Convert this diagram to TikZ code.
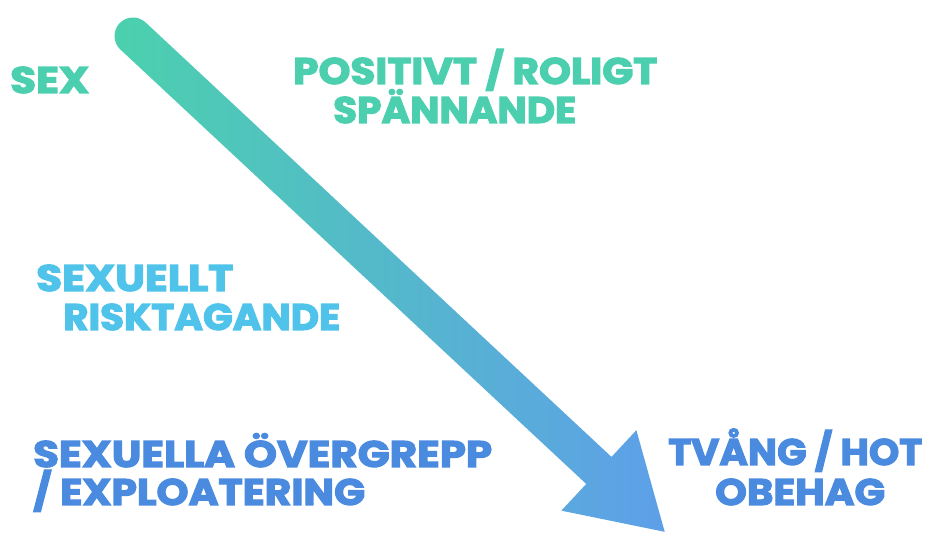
\documentclass[tikz,border=0pt]{standalone}
\usepackage{fontspec}
\usepackage{graphicx}
\setmainfont{Poppins}[BoldFeatures={FakeBold=3}]
\usetikzlibrary{calc}
\definecolor{greenT}{HTML}{4BCFAE}
\definecolor{lightB}{HTML}{4FC3EA}
\definecolor{darkB}{HTML}{4A8BDF}
\definecolor{arrowA}{HTML}{4BD1AD}
\definecolor{arrowB}{HTML}{5E9FE9}
\newcommand\fitwidth[2]{\resizebox{#1}{\height}{#2}}
\begin{document}
\begin{tikzpicture}[x=1pt,y=1pt,
  lbl/.style={anchor=base west, inner sep=0pt, font=\fontsize{37}{37}\selectfont\bfseries}]
\useasboundingbox (0,0) rectangle (926,534);
\coordinate (S) at (133,498);
\coordinate (B) at ($(S)+(-43:637pt)$);
\coordinate (T) at ($(B)+(-43:90pt)$);
\coordinate (Su) at ($(S)+(47:18.5pt)$);
\coordinate (Bu) at ($(B)+(47:18.5pt)$);
\coordinate (Bl) at ($(B)+(227:18.5pt)$);
\coordinate (Hu) at ($(B)+(47:55pt)$);
\coordinate (Hl) at ($(B)+(227:55pt)$);
\shade[left color=arrowA, right color=arrowB]
  (Su) arc[start angle=47, end angle=227, radius=18.5pt] -- (Bl) -- (Hl) -- (T) -- (Hu) -- (Bu) -- cycle;
\node[lbl, text=greenT] (sex) at (10,441) {\fitwidth{79pt}{SEX}};
\node[lbl, text=greenT] (pos1) at (293,450) {\fitwidth{364pt}{POSITIVT / ROLIGT}};
\node[lbl, text=greenT] (pos2) at (333,411) {\fitwidth{243pt}{SPÄNNANDE}};
\node[lbl, text=lightB] (risk1) at (36,243) {\fitwidth{197pt}{SEXUELLT}};
\node[lbl, text=lightB] (risk2) at (63,204) {\fitwidth{277pt}{RISKTAGANDE}};
\node[lbl, text=darkB] (ov1) at (33,67) {\fitwidth{459pt}{SEXUELLA ÖVERGREPP}};
\node[lbl, text=darkB] (ov2) at (33,29) {\fitwidth{332pt}{/ EXPLOATERING}};
\node[lbl, text=darkB] (tv1) at (668,69) {\fitwidth{254pt}{TVÅNG / HOT}};
\node[lbl, text=darkB] (tv2) at (715,29) {\fitwidth{170pt}{OBEHAG}};
\end{tikzpicture}
\end{document}
